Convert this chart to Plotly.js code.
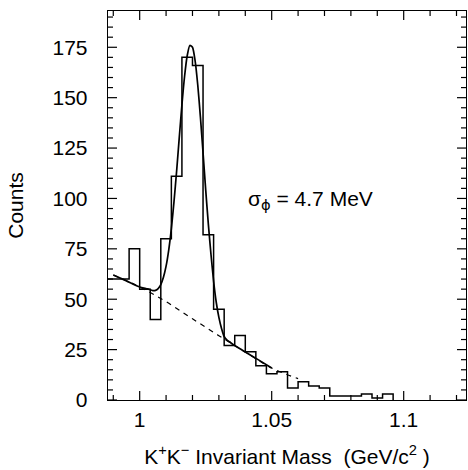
<!DOCTYPE html>
<html><head><meta charset="utf-8">
<script src="https://cdn.plot.ly/plotly-3.0.1.min.js"></script>
<style>
html,body{margin:0;padding:0;background:#fff;overflow:hidden;}
#plot{width:468px;height:470px;}
</style></head><body><div id="plot"></div>
<script>
// Histogram bin edges (GeV/c^2) and counts per 4 MeV bin
const binEdges = [0.988,0.992,0.996,1.000,1.004,1.008,1.012,1.016,1.020,1.024,1.028,1.032,1.036,1.040,1.044,1.048,1.052,1.056,1.060,1.064,1.068,1.072,1.076,1.080,1.084,1.088,1.092,1.096];
const counts   = [60,60,75,55,40,80,111,170,166,82,45,27,32,24,17,13,14,6,9,7,6,2,2,2,3,1,3];

// Fit curve (signal + background)
const fitX = [0.990,0.995,1.000,1.003,1.005,1.006,1.007,1.008,1.009,1.010,1.011,1.012,1.013,1.014,1.015,1.016,1.017,1.018,1.019,1.020,1.021,1.022,1.023,1.024,1.025,1.026,1.027,1.028,1.029,1.030,1.031,1.032,1.033,1.034,1.035,1.036,1.040,1.045,1.050];
const fitY = [62.0,59.1,56.1,55.1,54.3,54.4,55.3,57.3,60.9,66.4,74.4,85.0,98.4,113.7,130.3,146.4,160.5,170.8,175.9,175.0,168.3,156.3,140.5,122.7,104.4,87.4,72.3,59.0,48.5,41.0,35.5,31.5,29.8,28.9,27.9,27.0,23.8,19.9,15.9];

// Background component (dashed)
const bgX = [0.990,1.000,1.010,1.020,1.030,1.040,1.050,1.060];
const bgY = [62.0,56.1,48.8,40.3,31.9,23.8,15.9,10.6];

// Axis ticks
const xTickVals = [1.0,1.05,1.1];
const xTickText = ['1','1.05','1.1'];
const xMinorVals = [0.99,1.01,1.02,1.03,1.04,1.06,1.07,1.08,1.09,1.11,1.12];
const yTickVals = [0,25,50,75,100,125,150,175];
const yTickText = ['0','25','50','75','100','125','150','175'];
const yMinorVals = [5,10,15,20,30,35,40,45,55,60,65,70,80,85,90,95,105,110,115,120,130,135,140,145,155,160,165,170,180,185,190];

const X_RANGE = [0.988, 1.1236];
const Y_RANGE = [0, 193];
const W = 468, H = 470;
const M = {l:108, r:2, t:11, b:70};

const histX = binEdges;
const histY = counts.concat([0]);

const FONT = 'Liberation Sans, Arial, Helvetica, sans-serif';
const FS = 21;

// Tick marks on all four sides, drawn as a line trace on the axes' scales
const perPxX = (X_RANGE[1]-X_RANGE[0]) / (W - M.l - M.r);
const perPxY = (Y_RANGE[1]-Y_RANGE[0]) / (H - M.t - M.b);
const tickX = [], tickY = [];
function xTick(v, len){
  const d = len * perPxY;
  tickX.push(v, v, null, v, v, null);
  tickY.push(Y_RANGE[0], Y_RANGE[0]+d, null, Y_RANGE[1], Y_RANGE[1]-d, null);
}
function yTick(v, len){
  const d = len * perPxX;
  tickX.push(X_RANGE[0], X_RANGE[0]+d, null, X_RANGE[1], X_RANGE[1]-d, null);
  tickY.push(v, v, null, v, v, null);
}
xTickVals.forEach(v => xTick(v, 9));
xMinorVals.forEach(v => xTick(v, 5));
yTickVals.forEach(v => yTick(v, 9));
yMinorVals.forEach(v => yTick(v, 5));

const traces = [
  {x: bgX, y: bgY, type:'scatter', mode:'lines', line:{color:'#000', width:1.2, dash:'5px,5px', shape:'spline'}, hoverinfo:'skip'},
  {x: histX, y: histY, type:'scatter', mode:'lines', line:{color:'#000', width:1.5, shape:'hv'}, hoverinfo:'skip'},
  {x: fitX, y: fitY, type:'scatter', mode:'lines', line:{color:'#000', width:1.7, shape:'spline', smoothing:0.6}, hoverinfo:'skip'},
  {x: tickX, y: tickY, type:'scatter', mode:'lines', connectgaps:false, line:{color:'#000', width:1.2}, hoverinfo:'skip', cliponaxis:false}
];

const axisCommon = {
  showline:true, mirror:true, linecolor:'#000', linewidth:1.3,
  ticks:'', showgrid:false, zeroline:false,
  tickfont:{family:FONT, size:FS, color:'#000'}
};

const layout = {
  width:W, height:H,
  margin:M,
  paper_bgcolor:'#fff', plot_bgcolor:'#fff',
  showlegend:false,
  font:{family:FONT, color:'#000', size:FS},
  xaxis: Object.assign({}, axisCommon, {
    range:X_RANGE,
    tickmode:'array', tickvals:xTickVals, ticktext:xTickText,
    title:{text:'K<sup>+</sup>K<sup>\u2212</sup> Invariant Mass \u00a0(GeV/c<sup>2</sup> )', font:{family:FONT, size:FS, color:'#000'}, standoff:19}
  }),
  yaxis: Object.assign({}, axisCommon, {
    range:Y_RANGE,
    tickmode:'array', tickvals:yTickVals, ticktext:yTickText,
    ticklabelstandoff:15,
    title:{text:'Counts', font:{family:FONT, size:FS, color:'#000'}, standoff:23}
  }),
  annotations:[{
    x:1.0403, y:99, xref:'x', yref:'y', xanchor:'left', yanchor:'middle',
    text:'\u03c3<sub><span style="font-family:DejaVu Sans">\u03d5</span></sub> = 4.7 MeV', showarrow:false,
    font:{family:FONT, size:FS, color:'#000'}
  }]
};

Plotly.newPlot('plot', traces, layout, {displayModeBar:false, staticPlot:true});
</script>
</body></html>
